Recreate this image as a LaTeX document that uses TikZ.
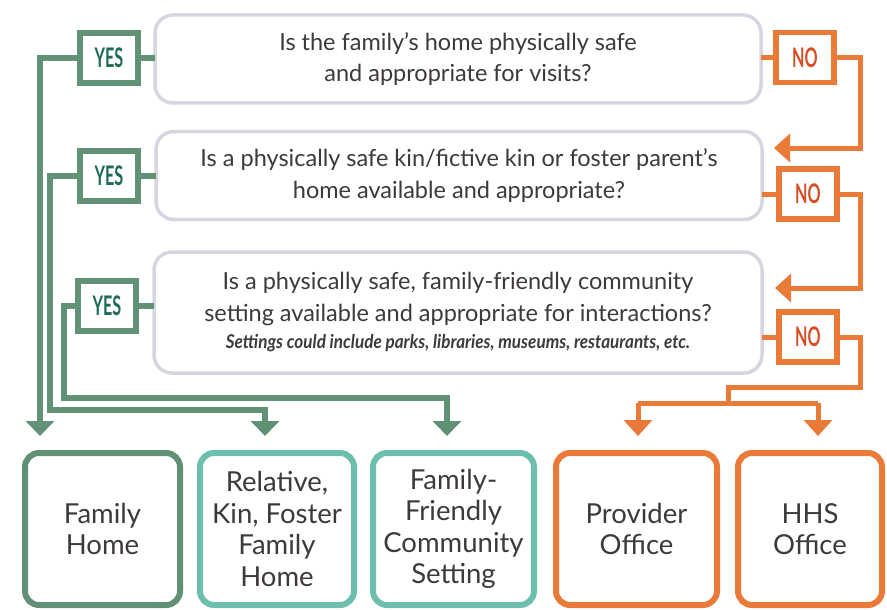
\documentclass[tikz,border=0pt]{standalone}
\usepackage{fontspec}
\setmainfont{Lato}
\usetikzlibrary{arrows.meta}
\definecolor{gline}{RGB}{96,145,117}
\definecolor{yestext}{RGB}{30,107,87}
\definecolor{tealb}{RGB}{109,191,173}
\definecolor{orng}{RGB}{234,122,56}
\definecolor{notext}{RGB}{214,78,38}
\definecolor{qgray}{RGB}{214,214,224}
\definecolor{txt}{RGB}{62,57,61}
\begin{document}
\begin{tikzpicture}[x=1pt,y=-1pt,
  qbox/.style={draw=qgray, line width=3.5pt, rounded corners=18pt, fill=white, text=txt, align=center, inner sep=0pt, outer sep=0pt, font=\fontsize{23.5}{31.5}\selectfont},
  yesbox/.style={draw=gline, line width=6pt, fill=white, minimum width=58pt, minimum height=50pt, inner sep=0pt, outer sep=0pt, text=yestext, font=\fontsize{27}{27}\selectfont\bfseries},
  nobox/.style={draw=orng, line width=5.5pt, fill=white, minimum width=58pt, minimum height=50pt, inner sep=0pt, outer sep=0pt, text=notext, font=\fontsize{27}{27}\selectfont\bfseries},
  endbox/.style={line width=6pt, fill=white, rounded corners=14pt, minimum height=152pt, inner sep=0pt, outer sep=0pt, text=txt, align=center, font=\fontsize{27.5}{31.5}\selectfont},
  gl/.style={draw=gline, line width=6pt},
  ol/.style={draw=orng, line width=5pt},
  garr/.style={gl, -{Triangle[width=28pt,length=15pt]}},
  oarr/.style={ol, -{Triangle[width=28pt,length=16pt]}},
]
\useasboundingbox (0,0) rectangle (887,610);
% question boxes
\node[qbox, minimum width=606pt, minimum height=88pt] (q1) at (458,59)
  {Is the family’s home physically safe\\and appropriate for visits?};
\node[qbox, minimum width=606pt, minimum height=88pt] (q2) at (459,175.5)
  {Is a physically safe kin/fictive kin or foster parent’s\\home available and appropriate?};
\node[qbox, minimum width=608pt, minimum height=121pt] (q3) at (458,312.5)
  {Is a physically safe, family-friendly community\\setting available and appropriate for interactions?\\[-4pt]
   {\fontsize{19}{20}\selectfont\bfseries\itshape\scalebox{0.9}[1]{Settings could include parks, libraries, museums, restaurants, etc.}}};
% yes / no boxes
\node[yesbox] (y1) at (109,58) {\scalebox{0.6}[1]{YES}};
\node[yesbox] (y2) at (109,176) {\scalebox{0.6}[1]{YES}};
\node[yesbox] (y3) at (107,306) {\scalebox{0.6}[1]{YES}};
\node[nobox] (n1) at (805,57.5) {\scalebox{0.6}[1]{NO}};
\node[nobox] (n2) at (808,194) {\scalebox{0.6}[1]{NO}};
\node[nobox] (n3) at (808,337) {\scalebox{0.6}[1]{NO}};
% end boxes
\node[endbox, draw=gline, minimum width=155pt] (b1) at (102.5,529) {Family\\Home};
\node[endbox, draw=tealb, minimum width=154pt] (b2) at (277,529) {Relative,\\Kin, Foster\\Family\\Home};
\node[endbox, draw=tealb, minimum width=161pt] (b3) at (453.5,529) {Family-\\Friendly\\Community\\Setting};
\node[endbox, draw=orng, minimum width=161pt] (b4) at (636.5,529) {Provider\\Office};
\node[endbox, draw=orng, minimum width=144pt] (b5) at (810,529) {HHS\\Office};
% coordinates
\coordinate (g1a) at (40,58);   \coordinate (g1b) at (40,436);
\coordinate (g2a) at (50,176);  \coordinate (g2b) at (50,410);  \coordinate (g2c) at (265,410); \coordinate (g2d) at (265,436);
\coordinate (g3a) at (64,306);  \coordinate (g3b) at (64,398);  \coordinate (g3c) at (447,398); \coordinate (g3d) at (447,436);
\coordinate (o1a) at (860,57.5); \coordinate (o1b) at (860,148); \coordinate (o1c) at (774,148);
\coordinate (o2a) at (860,194);  \coordinate (o2b) at (860,288); \coordinate (o2c) at (775,288);
\coordinate (o3a) at (860,337);  \coordinate (o3b) at (860,387); \coordinate (o3c) at (728,387); \coordinate (o3d) at (728,403);
\coordinate (o3l) at (638,403);  \coordinate (o3r) at (818,403);
\coordinate (o3lt) at (638,436); \coordinate (o3rt) at (818,436);
% green connectors
\draw[gl] (q1.west |- y1.east) -- (y1.east);
\draw[gl] (q2.west |- y2.east) -- (y2.east);
\draw[gl] (q3.west |- y3.east) -- (y3.east);
\draw[garr] (y1.west) -- (g1a) -- (g1b);
\draw[garr] (y2.west) -- (g2a) -- (g2b) -- (g2c) -- (g2d);
\draw[garr] (y3.west) -- (g3a) -- (g3b) -- (g3c) -- (g3d);
% orange connectors
\draw[ol] (q1.east |- n1.west) -- (n1.west);
\draw[ol] (q2.east |- n2.west) -- (n2.west);
\draw[ol] (q3.east |- n3.west) -- (n3.west);
\draw[oarr] (n1.east) -- (o1a) -- (o1b) -- (o1c);
\draw[oarr] (n2.east) -- (o2a) -- (o2b) -- (o2c);
\draw[ol] (n3.east) -- (o3a) -- (o3b) -- (o3c) -- (o3d);
\draw[ol] (o3l) -- (o3r);
\draw[oarr] (o3l) -- (o3lt);
\draw[oarr] (o3r) -- (o3rt);
\end{tikzpicture}
\end{document}
